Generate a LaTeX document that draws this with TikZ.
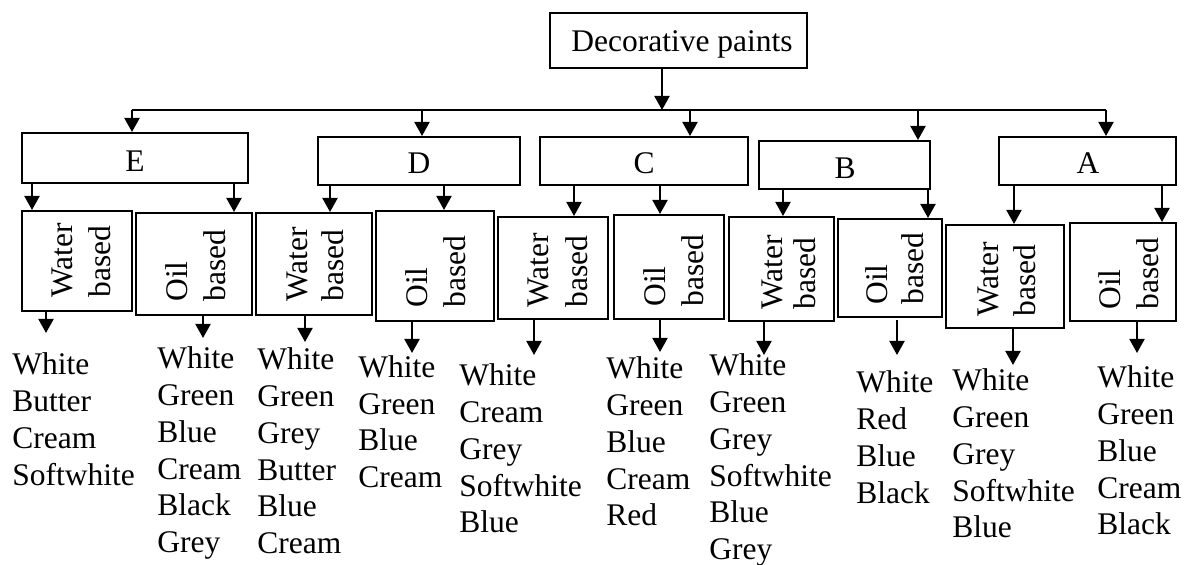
\documentclass[tikz,border=0pt]{standalone}
\usepackage{fontspec}
\setmainfont{Liberation Serif}
\usetikzlibrary{arrows.meta,fit}
\tikzset{
  txt/.style={font=\fontsize{15.75}{18.4}\selectfont, inner sep=0pt},
  box/.style={draw, line width=1pt, inner sep=0pt},
  btxt/.style={txt, anchor=base},
  vtxt/.style={txt, rotate=90, anchor=base west},
  list/.style={txt, align=left, anchor=north west},
  arr/.style={line width=1pt, -{Triangle[width=7.5pt,length=7pt]}},
  busline/.style={line width=0.8pt}
}
\begin{document}
\begin{tikzpicture}[x=0.5pt,y=-0.5pt]
\useasboundingbox (0,0) rectangle (1184,565);

% top box
\node[box, fit={(550,13) (807,68)}] (dp) {};
\node[btxt] (dpt) at (682,52) {Decorative paints};

% second level
\node[box, fit={(22,133) (248,183)}] (E) {};
\node[box, fit={(318,137) (520,185)}] (D) {};
\node[box, fit={(540,137) (748,185)}] (C) {};
\node[box, fit={(759,141) (930,189)}] (B) {};
\node[box, fit={(999,137) (1176,185)}] (A) {};
\node[btxt] (Et) at (135,172) {E};
\node[btxt] (Dt) at (419,174) {D};
\node[btxt] (Ct) at (644,174) {C};
\node[btxt] (Bt) at (845,179) {B};
\node[btxt] (At) at (1088,174) {A};

% third level boxes
\node[box, fit={(22,211) (132,311)}] (Ew) {};
\node[box, fit={(136,213) (252,315)}] (Eo) {};
\node[box, fit={(256,213) (372,315)}] (Dw) {};
\node[box, fit={(376,211) (494,321)}] (Do) {};
\node[box, fit={(498,217) (608,319)}] (Cw) {};
\node[box, fit={(614,215) (724,319)}] (Co) {};
\node[box, fit={(729,217) (834,321)}] (Bw) {};
\node[box, fit={(838,219) (942,317)}] (Bo) {};
\node[box, fit={(946,225) (1064,328)}] (Aw) {};
\node[box, fit={(1070,223) (1176,321)}] (Ao) {};

% rotated labels
\node[vtxt] (Ew1) at (72,298) {Water};
\node[vtxt] (Ew2) at (110,298) {based};
\node[vtxt] (Eo1) at (187,302) {Oil};
\node[vtxt] (Eo2) at (225,302) {based};
\node[vtxt] (Dw1) at (307,302) {Water};
\node[vtxt] (Dw2) at (343,302) {based};
\node[vtxt] (Do1) at (427,308) {Oil};
\node[vtxt] (Do2) at (465,308) {based};
\node[vtxt] (Cw1) at (548,308) {Water};
\node[vtxt] (Cw2) at (587,308) {based};
\node[vtxt] (Co1) at (665,307) {Oil};
\node[vtxt] (Co2) at (703,307) {based};
\node[vtxt] (Bw1) at (782,310) {Water};
\node[vtxt] (Bw2) at (815,310) {based};
\node[vtxt] (Bo1) at (887,305) {Oil};
\node[vtxt] (Bo2) at (923,305) {based};
\node[vtxt] (Aw1) at (998,317) {Water};
\node[vtxt] (Aw2) at (1035,317) {based};
\node[vtxt] (Ao1) at (1120,310) {Oil};
\node[vtxt] (Ao2) at (1158,310) {based};

% colour lists
\node[list] (LEw) at (12,352.5) {White\\Butter\\Cream\\Softwhite};
\node[list] (LEo) at (157,346.5) {White\\Green\\Blue\\Cream\\Black\\Grey};
\node[list] (LDw) at (257,347.5) {White\\Green\\Grey\\Butter\\Blue\\Cream};
\node[list] (LDo) at (358,355) {White\\Green\\Blue\\Cream};
\node[list] (LCw) at (459,363.5) {White\\Cream\\Grey\\Softwhite\\Blue};
\node[list] (LCo) at (606,356.5) {White\\Green\\Blue\\Cream\\Red};
\node[list] (LBw) at (709,353.5) {White\\Green\\Grey\\Softwhite\\Blue\\Grey};
\node[list] (LBo) at (856,370.5) {White\\Red\\Blue\\Black};
\node[list] (LAw) at (952,368.5) {White\\Green\\Grey\\Softwhite\\Blue};
\node[list] (LAo) at (1097,365.5) {White\\Green\\Blue\\Cream\\Black};

% bus
\coordinate (bM) at (662,110);
\coordinate (bE) at (132,110);
\coordinate (bD) at (422,110);
\coordinate (bC) at (690,110);
\coordinate (bB) at (918,110);
\coordinate (bA) at (1106,110);
\draw[busline] (bE) -- (bA);
\draw[arr] (dp.south -| bM) -- (bM);
\draw[arr] (bE) -- (E.north -| bE);
\draw[arr] (bD) -- (D.north -| bD);
\draw[arr] (bC) -- (C.north -| bC);
\draw[arr] (bB) -- (B.north -| bB);
\draw[arr] (bA) -- (A.north -| bA);

% second to third level
\coordinate (xEw) at (32,0);
\coordinate (xEo) at (234,0);
\coordinate (xDw) at (330,0);
\coordinate (xDo) at (444,0);
\coordinate (xCw) at (574,0);
\coordinate (xCo) at (660,0);
\coordinate (xBw) at (783,0);
\coordinate (xBo) at (928,0);
\coordinate (xAw) at (1014,0);
\coordinate (xAo) at (1162,0);
\draw[arr] (E.south -| xEw) -- (Ew.north -| xEw);
\draw[arr] (E.south -| xEo) -- (Eo.north -| xEo);
\draw[arr] (D.south -| xDw) -- (Dw.north -| xDw);
\draw[arr] (D.south -| xDo) -- (Do.north -| xDo);
\draw[arr] (C.south -| xCw) -- (Cw.north -| xCw);
\draw[arr] (C.south -| xCo) -- (Co.north -| xCo);
\draw[arr] (B.south -| xBw) -- (Bw.north -| xBw);
\draw[arr] (B.south -| xBo) -- (Bo.north -| xBo);
\draw[arr] (A.south -| xAw) -- (Aw.north -| xAw);
\draw[arr] (A.south -| xAo) -- (Ao.north -| xAo);

% third level to lists
\coordinate (tEw) at (46,333);
\coordinate (tEo) at (203,338);
\coordinate (tDw) at (305,342);
\coordinate (tDo) at (412,353);
\coordinate (tCw) at (534,355);
\coordinate (tCo) at (660,352);
\coordinate (tBw) at (764,355);
\coordinate (tBo) at (897,355);
\coordinate (tAw) at (1013,365);
\coordinate (tAo) at (1137,353);
\draw[arr] (Ew.south -| tEw) -- (tEw);
\draw[arr] (Eo.south -| tEo) -- (tEo);
\draw[arr] (Dw.south -| tDw) -- (tDw);
\draw[arr] (Do.south -| tDo) -- (tDo);
\draw[arr] (Cw.south -| tCw) -- (tCw);
\draw[arr] (Co.south -| tCo) -- (tCo);
\draw[arr] (Bw.south -| tBw) -- (tBw);
\draw[arr] ([yshift=-1pt]Bo.south -| tBo) -- (tBo);
\draw[arr] (Aw.south -| tAw) -- (tAw);
\draw[arr] (Ao.south -| tAo) -- (tAo);
\end{tikzpicture}
\end{document}
